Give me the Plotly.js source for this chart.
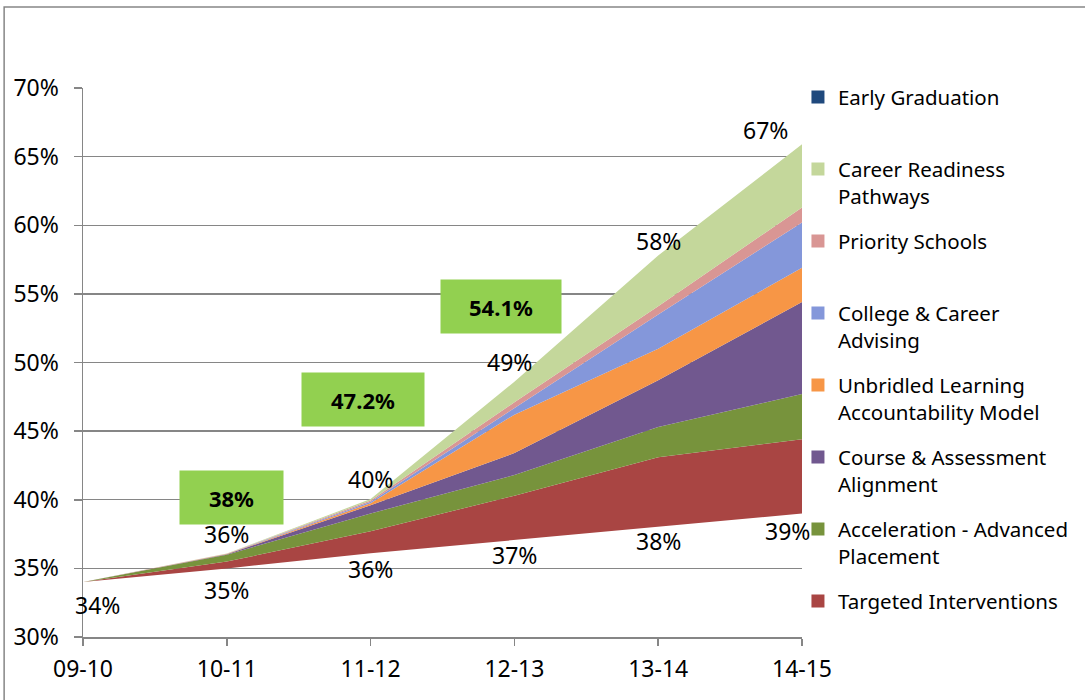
<!DOCTYPE html>
<html>
<head>
<meta charset="utf-8">
<script src="https://cdn.plot.ly/plotly-3.0.1.min.js"></script>
<style>html,body{margin:0;padding:0;background:#fff;}#chart{width:1085px;height:700px;}</style>
</head>
<body>
<div id="chart"></div>
<script>
// ---- Data ----
const categories = ['09-10', '10-11', '11-12', '12-13', '13-14', '14-15'];
const baseline = [34, 35, 36.1, 37.05, 38.0, 39.0];
const targetedInterventions = [0, 0.5, 1.6, 3.25, 5.1, 5.4];
const accelerationAP = [0, 0.5, 1.3, 1.5, 2.2, 3.3];
const courseAssessment = [0, 0.03, 0.6, 1.6, 3.4, 6.7];
const unbridledLearning = [0, 0.01, 0.15, 2.8, 2.3, 2.5];
const collegeCareerAdvising = [0, 0.01, 0.1, 0.5, 2.5, 3.3];
const prioritySchools = [0, 0.01, 0.1, 0.4, 0.6, 1.1];
const careerReadiness = [0, 0.02, 0.1, 1.5, 3.7, 4.6];
const earlyGraduation = [0, 0, 0, 0, 0, 0];

const seriesNames = ['Targeted Interventions', 'Acceleration - Advanced Placement', 'Course & Assessment Alignment',
  'Unbridled Learning Accountability Model', 'College & Career Advising', 'Priority Schools',
  'Career Readiness Pathways', 'Early Graduation'];
const legendLabels = ['Targeted Interventions<br> ', 'Acceleration - Advanced<br>Placement', 'Course & Assessment<br>Alignment',
  'Unbridled Learning<br>Accountability Model', 'College & Career<br>Advising', 'Priority Schools<br> ',
  'Career Readiness<br>Pathways', 'Early Graduation<br> '];
const baselineLabels = ['34%', '35%', '36%', '37%', '38%', '39%'];
const topLabels = ['', '36%', '40%', '49%', '58%', '67%'];
const targetBoxLabels = ['38%', '47.2%', '54.1%'];

const colors = ['#A94543', '#77933C', '#71588F', '#F79646', '#8497DA', '#D99694', '#C4D79B', '#1F497D'];
const seriesValues = [targetedInterventions, accelerationAP, courseAssessment, unbridledLearning,
  collegeCareerAdvising, prioritySchools, careerReadiness, earlyGraduation];

const FONT = 'Noto Sans, Open Sans, sans-serif';
const traces = [];
traces.push({
  x: categories, y: baseline, type: 'scatter', mode: 'lines', stackgroup: 'one',
  line: {width: 0}, fillcolor: 'rgba(0,0,0,0)', showlegend: false, hoverinfo: 'skip'
});
seriesValues.forEach((vals, i) => {
  traces.push({
    x: categories, y: vals, type: 'scatter', mode: 'lines', stackgroup: 'one',
    name: seriesNames[i], line: {width: 0, color: colors[i]}, fillcolor: colors[i],
    showlegend: false, hoverinfo: 'skip'
  });
});
// legend entries (top to bottom)
for (let i = seriesNames.length - 1; i >= 0; i--) {
  traces.push({
    x: [null], y: [null], type: 'scatter', mode: 'markers', name: legendLabels[i],
    legendgroup: 'g' + i, marker: {symbol: 'square', size: 13, color: colors[i]},
    hoverinfo: 'skip'
  });
}

// cumulative top of stack
const topStack = categories.map((c, j) => baseline[j] + seriesValues.reduce((s, v) => s + v[j], 0));

// label placement offsets (pixels), layout only
const baseShift = [[-10, -5, 'left'], [0, -4, 'center'], [0, 2, 'center'], [0, 3, 'center'], [0, 4, 'center'], [10, 0, 'right']];
const topShift = [null, [0, 2, 'center'], [0, 2, 'center'], [-5, 2, 'center'], [0, -4, 'center'], [-12, -4, 'right']];

const annotations = [];
baselineLabels.forEach((t, j) => {
  annotations.push({x: j, y: baseline[j], xref: 'x', yref: 'y', text: t, showarrow: false,
    yanchor: 'top', xanchor: baseShift[j][2], xshift: baseShift[j][0], yshift: baseShift[j][1],
    font: {family: FONT, size: 23, color: '#000'}});
});
topLabels.forEach((t, j) => {
  if (!t) return;
  annotations.push({x: j, y: topStack[j], xref: 'x', yref: 'y', text: t, showarrow: false,
    yanchor: 'bottom', xanchor: topShift[j][2], xshift: topShift[j][0], yshift: topShift[j][1],
    font: {family: FONT, size: 23, color: '#000'}});
});
const boxPos = [[1.03, 40.2, 103], [1.95, 47.3, 122], [2.91, 54.1, 120]];
targetBoxLabels.forEach((t, k) => {
  annotations.push({x: boxPos[k][0], y: boxPos[k][1], xref: 'x', yref: 'y', text: '<b>' + t + '</b>',
    showarrow: false, bgcolor: '#92D050', width: boxPos[k][2], height: 53, borderpad: 0,
    font: {family: FONT, size: 22, color: '#000'}});
});

const layout = {
  width: 1085, height: 700,
  margin: {l: 83, r: 282, t: 88, b: 63},
  paper_bgcolor: '#fff', plot_bgcolor: '#fff',
  font: {family: FONT, color: '#000'},
  showlegend: true,
  legend: {x: 0.993, xanchor: 'left', y: 1.0195, yanchor: 'top', traceorder: 'grouped',
    tracegroupgap: 15.7, valign: 'top', maxheight: 640, font: {family: FONT, size: 20.5, color: '#000'},
    bgcolor: 'rgba(0,0,0,0)', borderwidth: 0},
  xaxis: {type: 'category', range: [0, 5], showgrid: false, zeroline: false,
    showline: true, linecolor: '#868686', linewidth: 1.5,
    ticks: 'outside', ticklen: 7, tickcolor: '#868686', tickwidth: 1.5, ticklabelstandoff: 4,
    tickfont: {family: FONT, size: 23, color: '#000'}, fixedrange: true},
  yaxis: {range: [30, 70], dtick: 5, ticksuffix: '%', showgrid: true, gridcolor: '#868686', gridwidth: 1.3,
    zeroline: false, showline: true, linecolor: '#868686', linewidth: 1.5,
    ticks: 'outside', ticklen: 8, tickcolor: '#868686', tickwidth: 1.5, ticklabelstandoff: 10,
    tickfont: {family: FONT, size: 23, color: '#000'}, fixedrange: true},
  shapes: [{type: 'rect', xref: 'paper', yref: 'paper', x0: -0.1097, x1: 1.6, y0: -0.3, y1: 1.1475,
    line: {color: '#868686', width: 1.5}, fillcolor: 'rgba(0,0,0,0)', layer: 'below'}],
  annotations: annotations,
  hovermode: false
};

Plotly.newPlot('chart', traces, layout, {displayModeBar: false, staticPlot: true});
</script>
</body>
</html>
